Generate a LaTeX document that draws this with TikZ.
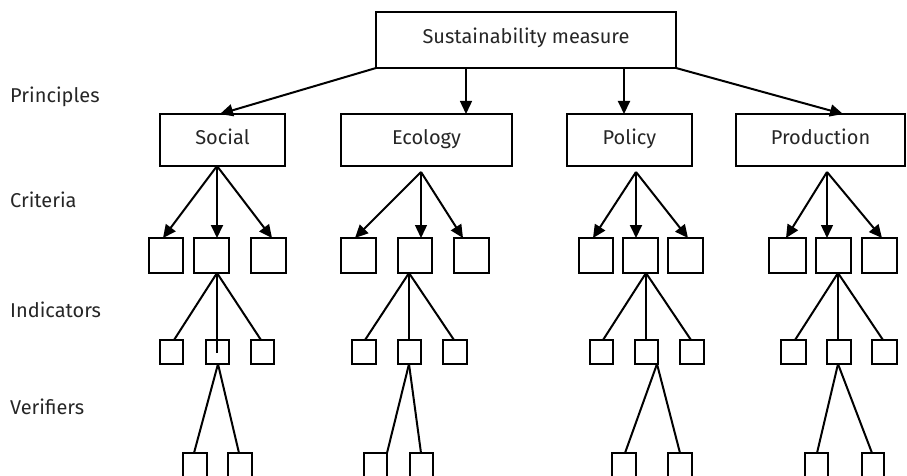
\documentclass[tikz,border=0pt]{standalone}
\usepackage{fontspec}
\setmainfont{Fira Sans}
\usetikzlibrary{arrows.meta}
\begin{document}
\begin{tikzpicture}[x=1pt,y=-1pt,
 bx/.style={draw, line width=2pt, inner sep=0pt, outer sep=0pt, font=\fontsize{20}{22}\selectfont},
 tbx/.style={bx, text=black!85, text height=1.0em, text depth=0.2em},
 arr/.style={line width=2pt, -{Triangle[length=13pt,width=12pt]}},
 arrthin/.style={line width=1.4pt, -{Triangle[length=13pt,width=12pt]}},
 ln/.style={line width=2pt},
 lnthin/.style={line width=1.4pt},
 lab/.style={anchor=west, inner sep=0pt, text=black!85, font=\fontsize{20}{22}\selectfont}]
\useasboundingbox (0,0) rectangle (907,476);
\clip (0,0) rectangle (907,476);
\newcommand\mytbx[6]{\node[tbx, minimum width=#4-#2, minimum height=#5-#3] (#1) at ({(#2+#4)/2},{(#3+#5)/2}) {#6};}
\newcommand\mybx[5]{\node[bx, minimum width=#4-#2, minimum height=#5-#3] (#1) at ({(#2+#4)/2},{(#3+#5)/2}) {};}
% labels
\node[lab] (lp) at (10,97) {Principles};
\node[lab] (lc) at (10,200) {Criteria};
\node[lab] (li) at (10,310) {Indicators};
\node[lab] (lv) at (10,407) {Verifiers};
% top and principles
\mytbx{top}{376}{12}{676}{68}{Sustainability measure}
\mytbx{soc}{160}{114}{285}{166}{Social}
\mytbx{eco}{341}{114}{512}{166}{Ecology}
\mytbx{pol}{567}{114}{692}{166}{Policy}
\mytbx{pro}{736}{114}{905}{166}{Production}
% criteria
\mybx{c11}{149}{238}{183}{273}
\mybx{c12}{194}{238}{229}{273}
\mybx{c13}{251}{238}{286}{273}
\mybx{c21}{341}{238}{376}{273}
\mybx{c22}{398}{238}{432}{273}
\mybx{c23}{454}{238}{489}{273}
\mybx{c31}{579}{238}{613}{273}
\mybx{c32}{623}{238}{658}{273}
\mybx{c33}{668}{238}{703}{273}
\mybx{c41}{769}{238}{806}{273}
\mybx{c42}{816}{238}{851}{273}
\mybx{c43}{862}{238}{897}{273}
% indicators
\mybx{i11}{160}{340}{183}{364}
\mybx{i12}{206}{340}{229}{364}
\mybx{i13}{251}{340}{274}{364}
\mybx{i21}{352}{340}{376}{364}
\mybx{i22}{398}{340}{421}{364}
\mybx{i23}{443}{340}{467}{364}
\mybx{i31}{590}{340}{613}{364}
\mybx{i32}{635}{340}{658}{364}
\mybx{i33}{680}{340}{704}{364}
\mybx{i41}{781}{340}{806}{364}
\mybx{i42}{827}{340}{851}{364}
\mybx{i43}{872}{340}{897}{364}
% verifiers
\mybx{v11}{183}{453}{207}{490}
\mybx{v12}{228}{453}{252}{490}
\mybx{v21}{364}{453}{387}{490}
\mybx{v22}{410}{453}{433}{490}
\mybx{v31}{612}{453}{636}{490}
\mybx{v32}{668}{453}{692}{490}
\mybx{v41}{805}{453}{828}{490}
\mybx{v42}{862}{453}{884}{490}
% top arrows
\draw[arr] (top.south west) -- (soc.north -| 220,0);
\draw[arrthin] (top.south -| 466,0) -- (eco.north -| 466,0);
\draw[arr] (top.south -| 624,0) -- (pol.north -| 624,0);
\draw[arr] (top.south east) -- (pro.north -| 843,0);
% principle -> criteria
\coordinate (s0) at (217,166);
\coordinate (e0) at (421,172);
\coordinate (p0) at (636,172);
\coordinate (r0) at (827,172);
\draw[arr] (s0) -- (c11.north -| 163,0);
\draw[arr] (s0) -- (c12.north -| 217,0);
\draw[arr] (s0) -- (c13.north -| 272,0);
\draw[arr] (e0) -- (c21.north -| 355,0);
\draw[arrthin] (e0) -- (c22.north -| 421,0);
\draw[arr] (e0) -- (c23.north -| 463,0);
\draw[arr] (p0) -- (c31.north -| 593,0);
\draw[arr] (p0) -- (c32.north -| 636,0);
\draw[arr] (p0) -- (c33.north -| 688,0);
\draw[arr] (r0) -- (c41.north -| 786,0);
\draw[arrthin] (r0) -- (c42.north -| 827,0);
\draw[arr] (r0) -- (c43.north -| 882,0);
% criteria -> indicators
\coordinate (sm) at (217,353);
\draw[ln] (c12.south -| 217,0) -- (i11.north -| 174,0);
\draw[ln] (c12.south -| 217,0) -- (sm);
\draw[ln] (c12.south -| 217,0) -- (i13.north -| 261,0);
\draw[ln] (c22.south -| 409,0) -- (i21.north -| 365,0);
\draw[lnthin] (c22.south -| 409,0) -- (i22.north -| 409,0);
\draw[ln] (c22.south -| 409,0) -- (i23.north -| 454,0);
\draw[ln] (c32.south -| 646,0) -- (i31.north -| 603,0);
\draw[ln] (c32.south -| 646,0) -- (i32.north -| 646,0);
\draw[ln] (c32.south -| 646,0) -- (i33.north -| 691,0);
\draw[ln] (c42.south -| 838,0) -- (i41.north -| 795,0);
\draw[lnthin] (c42.south -| 838,0) -- (i42.north -| 838,0);
\draw[ln] (c42.south -| 838,0) -- (i43.north -| 883,0);
% indicators -> verifiers
\draw[ln] (i12.south -| 218,0) -- (v11.north -| 194,0);
\draw[ln] (i12.south -| 218,0) -- (v12.north -| 239,0);
\draw[ln] (i22.south -| 409,0) -- (v21.north -| 387,0);
\draw[ln] (i22.south -| 409,0) -- (v22.north -| 421,0);
\draw[ln] (i32.south -| 657,0) -- (v31.north -| 625,0);
\draw[ln] (i32.south -| 657,0) -- (v32.north -| 680,0);
\draw[ln] (i42.south -| 838,0) -- (v41.north -| 817,0);
\draw[ln] (i42.south -| 838,0) -- (v42.north -| 872,0);
\end{tikzpicture}
\end{document}
